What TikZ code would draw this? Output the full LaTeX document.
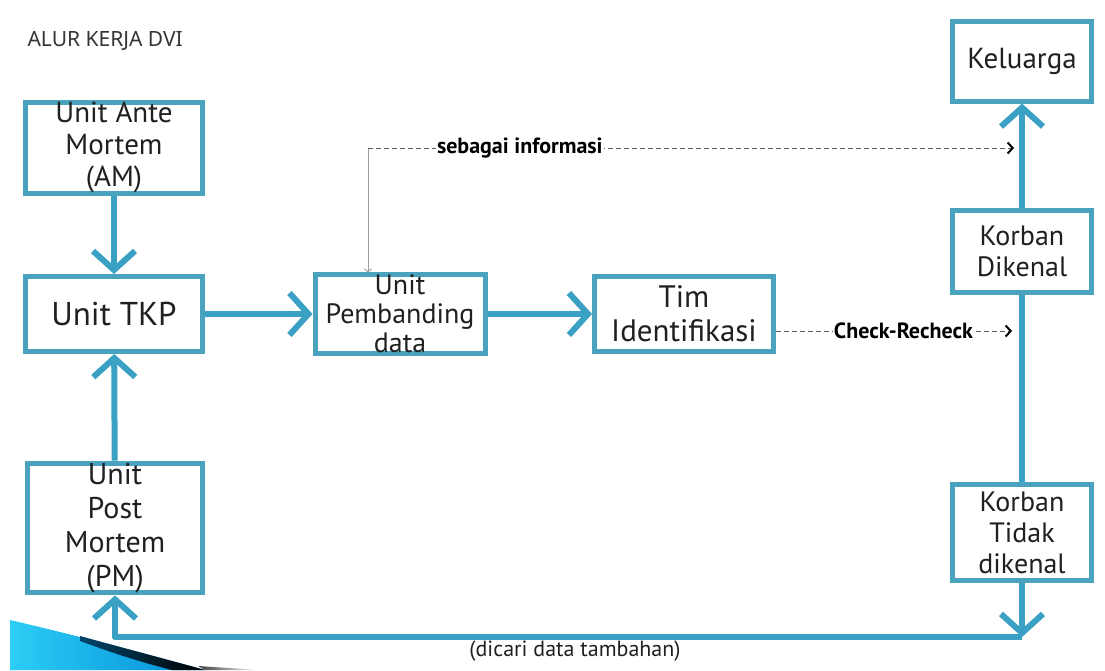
\documentclass[tikz,border=0pt]{standalone}
\usepackage{fontspec}
\setmainfont{PT Sans}
\newfontfamily\titlefont{Noto Sans}
\usetikzlibrary{arrows.meta,calc}
\definecolor{boxblue}{RGB}{74,163,190}
\definecolor{flowblue}{RGB}{58,160,196}
\definecolor{inkgray}{RGB}{32,32,32}
\definecolor{dashgray}{RGB}{95,95,95}
\definecolor{thingray}{RGB}{150,160,165}
\definecolor{swooshlight}{RGB}{45,205,245}
\definecolor{swooshdeep}{RGB}{0,140,215}
\begin{document}
\begin{tikzpicture}[x=1pt,y=-1pt,
  unitbox/.style={draw=boxblue, line width=5pt, fill=white, align=center,
    inner sep=0pt, text=inkgray, font=\fontsize{29}{32}\selectfont},
  flow/.style={draw=flowblue, line width=6pt,
    -{Straight Barb[length=19pt,width=42pt]}},
  plainflow/.style={draw=flowblue, line width=6pt},
  dashlink/.style={draw=dashgray, line width=1pt, dash pattern=on 5pt off 3pt,
    -{Straight Barb[length=5pt,width=11pt,line width=2pt,color=black]}},
  linklabel/.style={fill=white, inner sep=1pt, text=black,
    font=\bfseries\fontsize{22}{26}\selectfont}]
\useasboundingbox (0,0) rectangle (1105,670);

% decorative corner swoosh with a dark fold along its upper edge
\path[left color=swooshlight, right color=swooshdeep]
  (10,620) .. controls (70,634) and (140,652) .. (205,670) -- (10,670) -- cycle;
\path[left color=swooshdeep!50!black, right color=black]
  (80,636) .. controls (120,647) and (165,659) .. (205,670)
  -- (172,670) .. controls (140,662) and (110,652) .. (80,641) -- cycle;
\path[left color=black!75, right color=white]
  (205,670) -- (198,666) -- (260,670) -- cycle;

% title
\node[anchor=west, text=inkgray!90, font=\titlefont\fontsize{21}{23}\selectfont]
  (title) at (24,41) {ALUR KERJA DVI};

% units
\node[unitbox, minimum width=177pt, minimum height=86pt] (am) at (114,147.5)
  {Unit Ante\\Mortem\\(AM)};
\node[unitbox, minimum width=177pt, minimum height=75pt,
  font=\fontsize{33}{36}\selectfont] (tkp) at (114,314) {Unit TKP};
\node[unitbox, minimum width=175pt, minimum height=125pt,
  font=\fontsize{30}{34}\selectfont] (pm) at (115,528)
  {Unit\\Post\\Mortem\\(PM)};
\node[unitbox, minimum width=170pt, minimum height=78pt,
  font=\fontsize{28}{29}\selectfont] (pemb) at (400,314)
  {Unit\\Pembanding\\data};
\node[unitbox, minimum width=179pt, minimum height=75pt,
  font=\fontsize{31}{34}\selectfont] (tim) at (684,314)
  {Tim\\Identifikasi};
\node[unitbox, minimum width=139pt, minimum height=80pt] (kel) at (1022,61)
  {Keluarga};
\node[unitbox, minimum width=139pt, minimum height=82pt,
  font=\fontsize{28}{31}\selectfont] (kenal) at (1022,251)
  {Korban\\Dikenal};
\node[unitbox, minimum width=139pt, minimum height=96pt,
  font=\fontsize{28}{31}\selectfont] (tidak) at (1022,532.5)
  {Korban\\Tidak\\dikenal};

% main flow
\draw[flow] (am) -- (tkp);
\draw[flow] (pm) -- (tkp);
\draw[flow] (tkp) -- (pemb);
\draw[flow] (pemb) -- (tim);
\draw[flow] (kenal) -- (kel);
\draw[plainflow] (kenal) -- (tidak);

% return path for unidentified victims
\coordinate (retR) at (1022,637);
\coordinate (retL) at (115,637);
\draw[flow] (tidak) -- (retR);
\draw[flow, line join=round] (retR) -- (retL) -- (pm);
\node[text=inkgray, font=\fontsize{22}{24}\selectfont]
  (tambah) at (575,651) {(dicari data tambahan)};

% information link
\coordinate (infoCorner) at (368,148);
\coordinate (infoEnd) at (1014,148);
\draw[thingray, line width=1pt, -{Straight Barb[length=3pt,width=7pt]}]
  (infoCorner) -- (infoCorner |- pemb.north);
\draw[dashlink] (infoCorner) -- node[linklabel, pos=0.235] (info) {sebagai informasi} (infoEnd);

% check link
\coordinate (checkEnd) at (1012,331);
\draw[dashlink] (tim.east |- checkEnd) -- node[linklabel, pos=0.54] (check) {Check-Recheck} (checkEnd);
\end{tikzpicture}
\end{document}
